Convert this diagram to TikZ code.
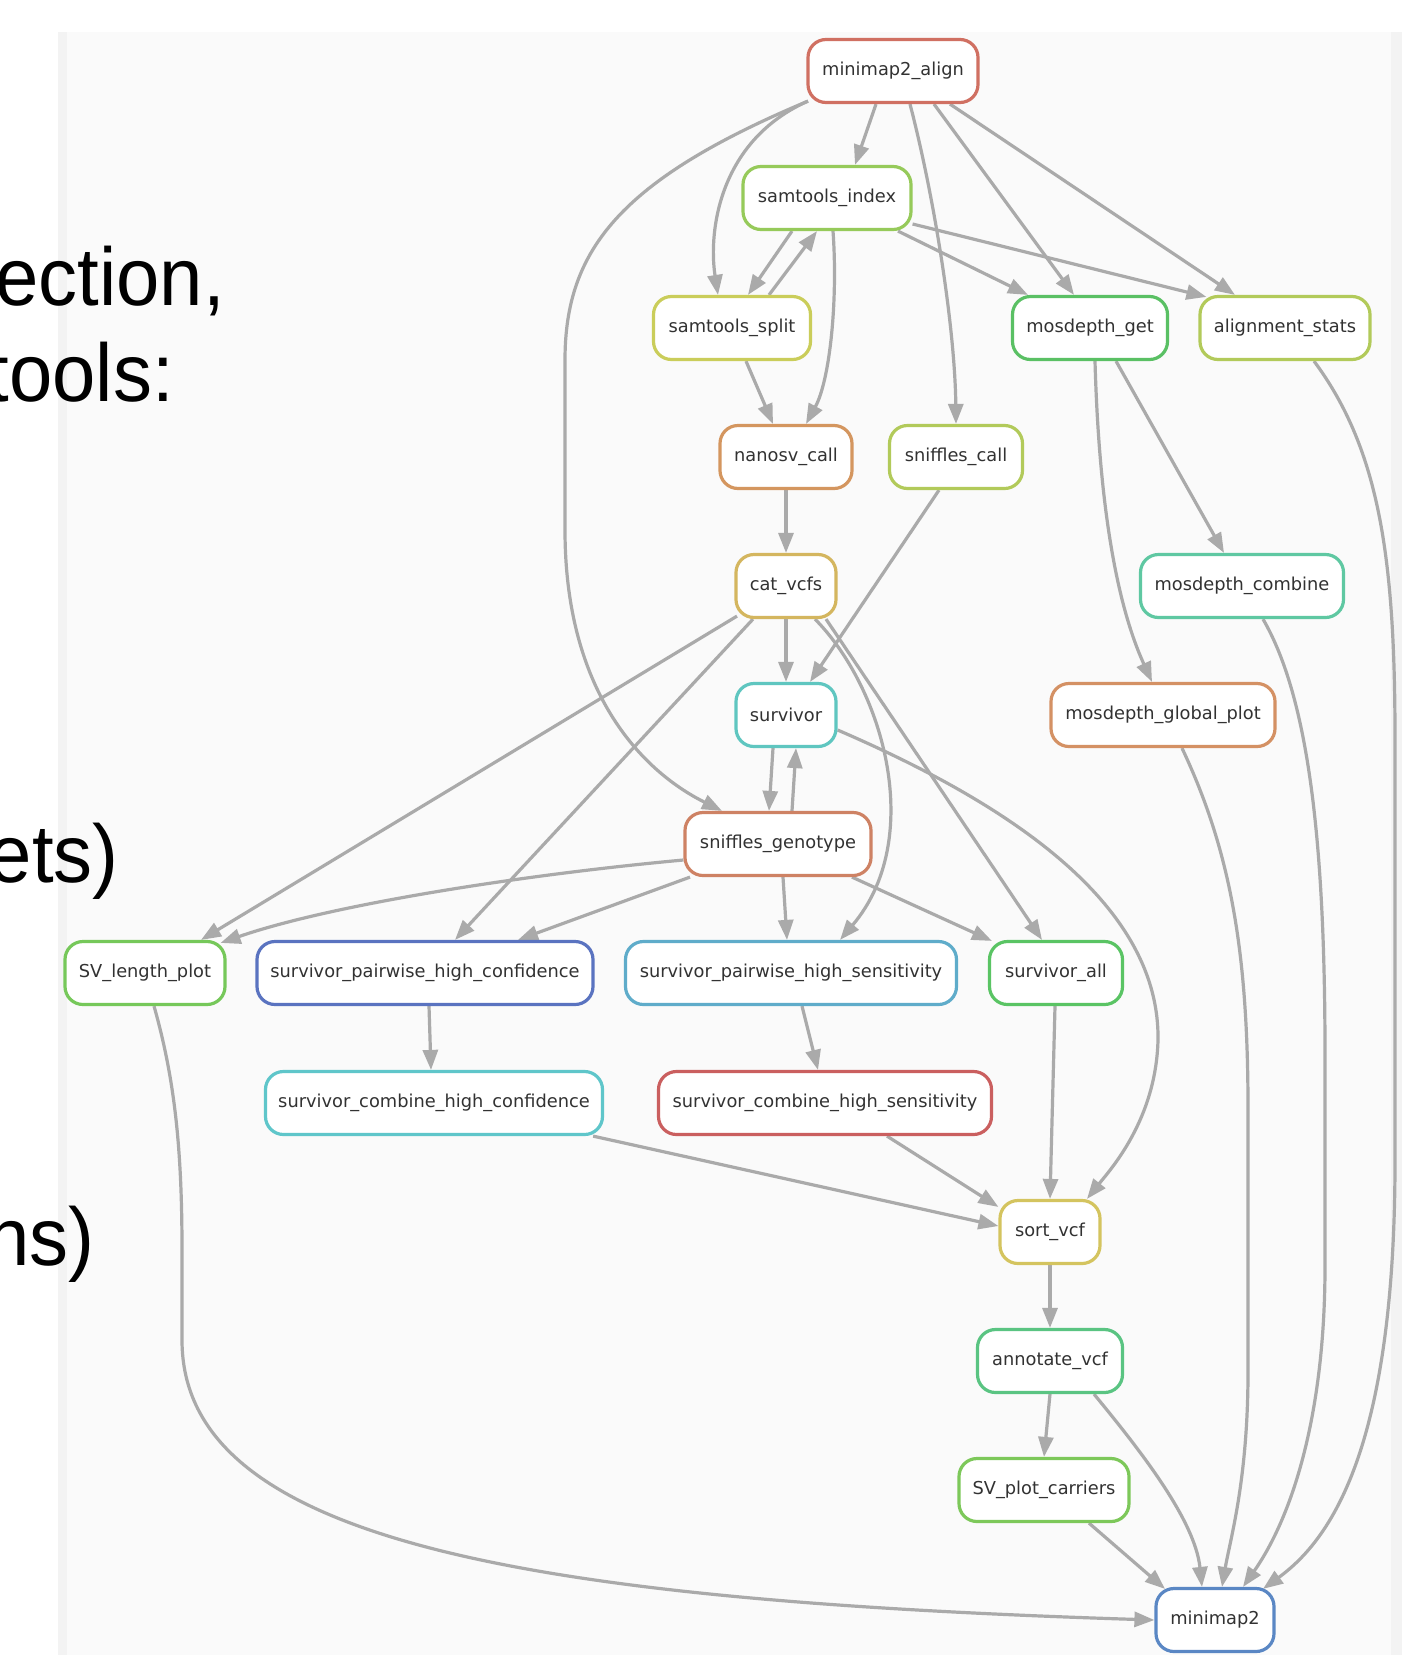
\documentclass[tikz,border=0pt]{standalone}
\usepackage{fontspec}
\newfontfamily\nodefont{DejaVu Sans}
\newfontfamily\slidefont[FakeStretch=0.95]{Liberation Sans}
\usetikzlibrary{arrows.meta}
\pgfdeclarelayer{bottom}
\pgfdeclarelayer{edges}
\pgfsetlayers{bottom,edges,main}
\definecolor{edgegray}{RGB}{170,170,170}
\definecolor{panelbg}{RGB}{250,250,250}
\definecolor{panelstrip}{RGB}{243,243,243}
\definecolor{txt}{RGB}{50,50,50}
\definecolor{cMMA}{RGB}{208,112,98}
\definecolor{cSI}{RGB}{150,202,90}
\definecolor{cSPLIT}{RGB}{202,205,90}
\definecolor{cMG}{RGB}{90,192,100}
\definecolor{cAS}{RGB}{178,202,90}
\definecolor{cNV}{RGB}{212,150,95}
\definecolor{cSC}{RGB}{178,202,90}
\definecolor{cCAT}{RGB}{212,182,95}
\definecolor{cMC}{RGB}{95,200,162}
\definecolor{cSV}{RGB}{95,198,192}
\definecolor{cMGP}{RGB}{212,145,100}
\definecolor{cSG}{RGB}{206,130,100}
\definecolor{cSVL}{RGB}{118,200,90}
\definecolor{cSPHC}{RGB}{90,115,192}
\definecolor{cSPHS}{RGB}{95,172,202}
\definecolor{cSA}{RGB}{90,196,100}
\definecolor{cSCHC}{RGB}{95,198,202}
\definecolor{cSCHS}{RGB}{202,95,95}
\definecolor{cSORT}{RGB}{212,196,95}
\definecolor{cANN}{RGB}{90,196,130}
\definecolor{cSVPC}{RGB}{125,200,90}
\definecolor{cMM2}{RGB}{90,135,196}
\tikzset{
  box/.style={rectangle, rounded corners=18pt, line width=3.2pt, fill=white,
    minimum height=63pt, inner sep=0pt, text=txt,
    font=\nodefont\fontsize{17.8pt}{20pt}\selectfont},
  edge/.style={draw=edgegray, line width=3.2pt,
    -{Triangle[length=20pt,width=15pt]}},
  bigtxt/.style={inner sep=0pt, text=black,
    font=\slidefont\fontsize{82pt}{90pt}\selectfont}
}
\begin{document}
\begin{tikzpicture}[x=1pt,y=-1pt]
\useasboundingbox (0,0) rectangle (1411,1655);
\begin{pgfonlayer}{bottom}
\fill[white] (0,0) rectangle (1411,1655);
\fill[panelbg] (58,32) rectangle (1402,1655);
\fill[panelstrip] (58,32) rectangle (67,1655);
\fill[panelstrip] (1391,32) rectangle (1402,1655);
\end{pgfonlayer}

% slide text fragments
\node[bigtxt, anchor=base east] (t1) at (225,305) {ection,};
\node[bigtxt, anchor=base east] (t2) at (174,401) {tools:};
\node[bigtxt, anchor=base east] (t3) at (119,882) {ets)};
\node[bigtxt, anchor=base east] (t4) at (95,1265) {ns)};

% nodes
\node[box, draw=cMMA, minimum width=170pt] (mma) at (893,71) {minimap2\_align};
\node[box, draw=cSI, minimum width=168pt] (si) at (827,198) {samtools\_index};
\node[box, draw=cSPLIT, minimum width=157pt] (split) at (732,328) {samtools\_split};
\node[box, draw=cMG, minimum width=155pt] (mg) at (1090,328) {mosdepth\_get};
\node[box, draw=cAS, minimum width=170pt] (as) at (1285,328) {alignment\_stats};
\node[box, draw=cNV, minimum width=132pt] (nv) at (786,457) {nanosv\_call};
\node[box, draw=cSC, minimum width=133pt] (sc) at (956,457) {sniffles\_call};
\node[box, draw=cCAT, minimum width=100pt] (cat) at (786,586) {cat\_vcfs};
\node[box, draw=cMC, minimum width=203pt] (mc) at (1242,586) {mosdepth\_combine};
\node[box, draw=cSV, minimum width=100pt] (sv) at (786,715) {survivor};
\node[box, draw=cMGP, minimum width=224pt] (mgp) at (1163,715) {mosdepth\_global\_plot};
\node[box, draw=cSG, minimum width=186pt] (sg) at (778,844) {sniffles\_genotype};
\node[box, draw=cSVL, minimum width=160pt] (svlen) at (145,973) {SV\_length\_plot};
\node[box, draw=cSPHC, minimum width=336pt] (sphc) at (425,973) {survivor\_pairwise\_high\_confidence};
\node[box, draw=cSPHS, minimum width=331pt] (sphs) at (791,973) {survivor\_pairwise\_high\_sensitivity};
\node[box, draw=cSA, minimum width=133pt] (sa) at (1056,973) {survivor\_all};
\node[box, draw=cSCHC, minimum width=337pt] (schc) at (434,1103) {survivor\_combine\_high\_confidence};
\node[box, draw=cSCHS, minimum width=333pt] (schs) at (825,1103) {survivor\_combine\_high\_sensitivity};
\node[box, draw=cSORT, minimum width=100pt] (sort) at (1050,1232) {sort\_vcf};
\node[box, draw=cANN, minimum width=145pt] (ann) at (1050,1361) {annotate\_vcf};
\node[box, draw=cSVPC, minimum width=170pt] (svpc) at (1044,1490) {SV\_plot\_carriers};
\node[box, draw=cMM2, minimum width=118pt] (mm2) at (1215,1620) {minimap2};

\begin{pgfonlayer}{edges}
% minimap2_align
\draw[edge] ([xshift=-17pt]mma.south) -- ([xshift=28pt]si.north);
\draw[edge] ([xshift=-85pt,yshift=3pt]mma.south) .. controls (720,140) and (708,230) .. ([xshift=-14pt]split.north);
\draw[edge] ([xshift=-85pt,yshift=3pt]mma.south) .. controls (620,180) and (565,250) .. (565,360) -- (565,530) .. controls (565,690) and (640,770) .. ([xshift=-56pt]sg.north);
\draw[edge] ([xshift=17pt]mma.south) .. controls (935,200) and (955,330) .. (sc.north);
\draw[edge] ([xshift=41pt]mma.south) -- ([xshift=-16pt]mg.north);
\draw[edge] ([xshift=57pt]mma.south) -- ([xshift=-50pt]as.north);
% samtools_index / split
\draw[edge] ([xshift=-35pt]si.south) -- ([xshift=16pt]split.north);
\draw[edge] ([xshift=37pt]split.north) -- ([xshift=-10pt]si.south);
\draw[edge] ([xshift=6pt]si.south) .. controls (838,300) and (830,380) .. ([xshift=20pt]nv.north);
\draw[edge] ([xshift=71pt]si.south) -- ([xshift=-62pt]mg.north);
\draw[edge] ([yshift=-26pt]si.east) -- ([xshift=8pt,yshift=-2pt]as.north west);
\draw[edge] ([xshift=14pt]split.south) -- ([xshift=-13pt]nv.north);
% calling
\draw[edge] (nv.south) -- (cat.north);
\draw[edge] ([xshift=-17pt]sc.south) -- ([xshift=24pt]sv.north);
\draw[edge] (cat.south) -- (sv.north);
\draw[edge] ([xshift=-49pt,yshift=3pt]cat.south) -- ([xshift=56pt]svlen.north);
\draw[edge] ([xshift=-33pt]cat.south) -- ([xshift=30pt]sphc.north);
\draw[edge] ([xshift=29pt]cat.south) .. controls (885,690) and (925,840) .. ([xshift=49pt]sphs.north);
\draw[edge] ([xshift=40pt]cat.south) -- ([xshift=-14pt]sa.north);
\draw[edge] ([xshift=-13pt]sv.south) -- ([xshift=-9pt]sg.north);
\draw[edge] ([xshift=14pt]sg.north) -- ([xshift=10pt]sv.south);
\draw[edge] ([yshift=-15pt]sv.east) .. controls (1000,800) and (1160,900) .. (1158,1040) .. controls (1156,1120) and (1110,1170) .. ([xshift=37pt]sort.north);
% sniffles_genotype
\draw[edge] ([yshift=-16pt]sg.west) .. controls (520,875) and (330,905) .. ([xshift=-6pt,yshift=-3pt]svlen.north east);
\draw[edge] ([xshift=-88pt]sg.south) -- ([xshift=93pt]sphc.north);
\draw[edge] ([xshift=5pt]sg.south) -- ([xshift=-4pt]sphs.north);
\draw[edge] ([xshift=74pt]sg.south) -- ([xshift=4pt,yshift=-1pt]sa.north west);
% survivor chain
\draw[edge] ([xshift=4pt]sphc.south) -- ([xshift=-3pt]schc.north);
\draw[edge] ([xshift=11pt]sphs.south) -- ([xshift=-7pt]schs.north);
\draw[edge] ([xshift=-1pt]sa.south) -- (sort.north);
\draw[edge] ([xshift=-11pt]schc.south east) -- ([yshift=6pt]sort.west);
\draw[edge] ([xshift=62pt]schs.south) -- ([yshift=-8pt]sort.north west);
\draw[edge] (sort.south) -- (ann.north);
\draw[edge] (ann.south) -- (svpc.north);
\draw[edge] ([xshift=44pt]ann.south) .. controls (1140,1450) and (1195,1520) .. ([xshift=-13pt]mm2.north);
\draw[edge] ([xshift=45pt]svpc.south) -- ([xshift=-50pt,yshift=-2pt]mm2.north);
\draw[edge] ([xshift=9pt]svlen.south) .. controls (175,1080) and (182,1150) .. (182,1250) -- (182,1340) .. controls (182,1540) and (520,1600) .. (mm2.west);
% mosdepth
\draw[edge] ([xshift=26pt]mg.south) -- ([xshift=-18pt]mc.north);
\draw[edge] ([xshift=5pt]mg.south) .. controls (1098,470) and (1110,590) .. ([xshift=-11pt]mgp.north);
\draw[edge] ([xshift=21pt]mc.south) .. controls (1310,700) and (1325,850) .. (1325,1055) -- (1325,1266) .. controls (1325,1420) and (1290,1520) .. ([xshift=28pt]mm2.north);
\draw[edge] ([xshift=19pt]mgp.south) .. controls (1230,850) and (1248,950) .. (1248,1108) -- (1248,1372) .. controls (1248,1480) and (1230,1540) .. ([xshift=7pt]mm2.north);
\draw[edge] ([xshift=29pt]as.south) .. controls (1380,450) and (1395,560) .. (1395,739) -- (1395,1161) .. controls (1395,1450) and (1330,1540) .. ([xshift=48pt,yshift=-2pt]mm2.north);
\end{pgfonlayer}
\end{tikzpicture}
\end{document}
